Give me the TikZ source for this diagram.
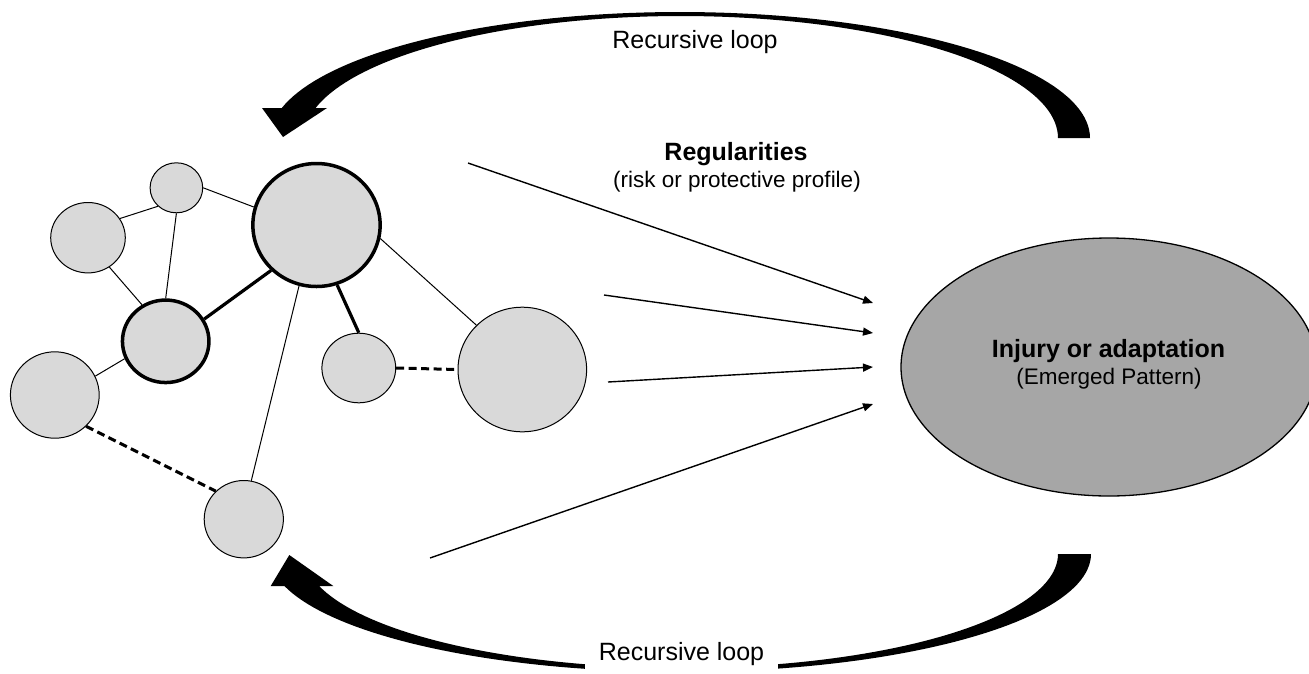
\documentclass[tikz,border=0pt]{standalone}
\usepackage{fontspec}
\setmainfont{Liberation Sans}
\usetikzlibrary{shapes.geometric,arrows.meta}
\definecolor{bubblegray}{HTML}{D9D9D9}
\definecolor{outcomegray}{HTML}{A6A6A6}
\begin{document}
\begin{tikzpicture}[x=1pt,y=-1pt,
  bubble/.style={ellipse, draw=black, fill=bubblegray, line width=1pt, inner sep=0pt},
  hub/.style={bubble, line width=3.5pt},
  tie/.style={line width=1pt},
  strongtie/.style={line width=3.2pt},
  weaktie/.style={line width=3pt, dash pattern=on 8pt off 4.5pt},
  flow/.style={line width=1.4pt, -{Triangle[length=10pt,width=8pt]}},
  looptext/.style={font=\fontsize{25}{29}\selectfont, anchor=base, inner sep=0pt},
  headtext/.style={font=\bfseries\fontsize{25}{30}\selectfont, anchor=base, inner sep=0pt},
  subtext/.style={font=\fontsize{22.5}{27}\selectfont, anchor=base, inner sep=0pt}
]
\useasboundingbox (0,0) rectangle (1309,673);

% feedback loops (tapered curved arrows)
\fill[black] plot[domain=0:166.23, samples=90] ({680+410*cos(\x)},{138-126*sin(\x)})
  -- (262,108) -- (283,137) -- (327,108)
  -- plot[domain=165.77:0, samples=90] ({681+377*cos(\x)},{138-122*sin(\x)}) -- cycle;
\fill[black] plot[domain=0:164.27, samples=90] ({680+411*cos(\x)},{554+118*sin(\x)})
  -- (270.7,586) -- (289.3,555) -- (333.3,586)
  -- plot[domain=163.70:0, samples=90] ({681+377*cos(\x)},{554+114*sin(\x)}) -- cycle;

\node[looptext] (toploop) at (695,48) {Recursive loop};
\node[fill=white, inner xsep=14pt, minimum height=42pt, font=\fontsize{25}{29}\selectfont]
  (botloop) at (681.5,654) {Recursive loop};

% network of factors
\node[bubble, minimum width=52.6pt, minimum height=50pt] (A) at (176.4,187.8) {};
\node[bubble, minimum width=74.6pt, minimum height=70.4pt] (B) at (88,237.7) {};
\node[hub, minimum width=127.3pt, minimum height=123pt] (C) at (316.5,225) {};
\node[hub, minimum width=86.5pt, minimum height=82.5pt] (D) at (165.7,341.3) {};
\node[bubble, minimum width=88.8pt, minimum height=86.4pt] (E) at (54.8,395) {};
\node[bubble, minimum width=73.8pt, minimum height=69.6pt] (F) at (358.8,368) {};
\node[bubble, minimum width=128.6pt, minimum height=124.6pt] (G) at (522.3,369.5) {};
\node[bubble, minimum width=79.2pt, minimum height=77.4pt] (H) at (243.8,519.2) {};

\draw[tie] (A.0) -- (C.164);
\draw[tie] (B.31) -- (A.225);
\draw[tie] (A.270) -- (D.90);
\draw[tie] (B.306) -- (D.123);
\draw[strongtie] (C.225) -- (D.30);
\draw[strongtie] (C.289) -- (F.90);
\draw[tie] (C.348) -- (G.136);
\draw[tie] (C.254) -- (H.79);
\draw[tie] (D.203) -- (E.25);
\draw[weaktie] (F.0) -- (G.180);
\draw[weaktie] (E.315) -- (H.135);

% outcome
\node[ellipse, draw=black, fill=outcomegray, line width=1.3pt, inner sep=0pt,
  minimum width=416pt, minimum height=258pt] (O) at (1109,367) {};
\node[headtext] (Ohead) at (1108.5,357.5) {Injury or adaptation};
\node[subtext] (Osub) at (1109,384.7) {(Emerged Pattern)};

% regularities
\node[headtext] (Rhead) at (736,160) {Regularities};
\node[subtext] (Rsub) at (737,187.4) {(risk or protective profile)};

\coordinate (s1) at (468,163);  \coordinate (t1) at (873,303);
\coordinate (s2) at (604,295);  \coordinate (t2) at (873,333);
\coordinate (s3) at (608,382);  \coordinate (t3) at (873,367);
\coordinate (s4) at (430,558);  \coordinate (t4) at (873,404);
\draw[flow] (s1) -- (t1);
\draw[flow] (s2) -- (t2);
\draw[flow] (s3) -- (t3);
\draw[flow] (s4) -- (t4);
\end{tikzpicture}
\end{document}
